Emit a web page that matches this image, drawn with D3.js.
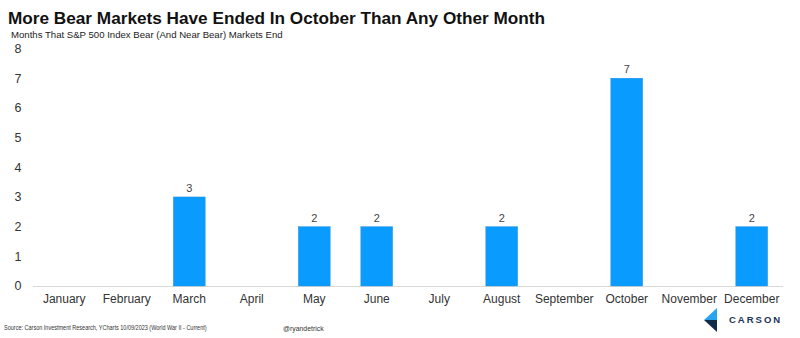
<!DOCTYPE html>
<html><head><meta charset="utf-8">
<script src="https://cdn.jsdelivr.net/npm/d3@7"></script>
<style>body{margin:0;background:#fff;} svg{display:block;}</style>
</head><body>
<script>
const months = ["January","February","March","April","May","June","July","August","September","October","November","December"];
const counts = [0,0,3,0,2,2,0,2,0,7,0,2];
const yTicks = [0,1,2,3,4,5,6,7,8];
const title = "More Bear Markets Have Ended In October Than Any Other Month";
const subtitle = "Months That S&P 500 Index Bear (And Near Bear) Markets End";
const source = "Source: Carson Investment Research, YCharts 10/09/2023 (World War II - Current)";
const handle = "@ryandetrick";

const W = 800, H = 338;
const svg = d3.select("body").append("svg").attr("width", W).attr("height", H);
const font = "'Liberation Sans', Arial, sans-serif";

const x = d3.scaleBand().domain(months).range([33, 783]).paddingInner(0.49).paddingOuter(0.245);
const y = d3.scaleLinear().domain([0, 8]).range([286, 48.5]);

svg.append("text").attr("x", 8).attr("y", 24).attr("font-family", font).attr("font-weight", "bold")
  .attr("font-size", 17.2).attr("fill", "#111").text(title);
svg.append("text").attr("x", 11).attr("y", 38).attr("font-family", font)
  .attr("font-size", 9.6).attr("fill", "#222").text(subtitle);

// y labels
svg.append("g").selectAll("text").data(yTicks).join("text")
  .attr("x", 18).attr("y", d => y(d)).attr("dy", "0.35em").attr("text-anchor", "middle")
  .attr("font-family", font).attr("font-size", 12.5).attr("fill", "#333").text(d => d);

// axis line
svg.append("line").attr("x1", 33).attr("x2", 783).attr("y1", y(0) + 0.5).attr("y2", y(0) + 0.5)
  .attr("stroke", "#d9d9d9").attr("stroke-width", 1);

const nz = months.map((m, i) => ({m, v: counts[i]})).filter(d => d.v > 0);

// bars
svg.append("g").selectAll("rect").data(nz).join("rect")
  .attr("x", d => x(d.m)).attr("width", x.bandwidth())
  .attr("y", d => y(d.v)).attr("height", d => y(0) - y(d.v))
  .attr("fill", "#0a9bff").attr("stroke", "#2f8fd6").attr("stroke-width", 0.4);

// value labels
svg.append("g").selectAll("text").data(nz).join("text")
  .attr("x", d => x(d.m) + x.bandwidth() / 2).attr("y", d => y(d.v) - 5)
  .attr("text-anchor", "middle").attr("font-family", font).attr("font-size", 11).attr("fill", "#444").text(d => d.v);

// x labels
svg.append("g").selectAll("text").data(months).join("text")
  .attr("x", d => x(d) + x.bandwidth() / 2).attr("y", 303)
  .attr("text-anchor", "middle").attr("font-family", font).attr("font-size", 12).attr("fill", "#333").text(d => d);

// footer (condensed via horizontal scale)
svg.append("g").attr("transform", "translate(4,330) scale(0.69,1)")
  .append("text").attr("font-family", font).attr("font-size", 8).attr("fill", "#333").text(source);
svg.append("g").attr("transform", "translate(283,331) scale(0.86,1)")
  .append("text").attr("font-family", font).attr("font-size", 8).attr("fill", "#333").text(handle);

// logo
const lg = svg.append("g");
lg.append("path").attr("d", "M717,308 L704,320 L717,320 Z").attr("fill", "#29a3ef");
lg.append("path").attr("d", "M704,320 L717,320 L717,332 Z").attr("fill", "#0f2c4a");
lg.append("text").attr("x", 729).attr("y", 323).attr("font-family", font).attr("font-weight", "bold")
  .attr("font-size", 9.5).attr("letter-spacing", 2).attr("fill", "#1b3552").text("CARSON");
</script>
</body></html>
